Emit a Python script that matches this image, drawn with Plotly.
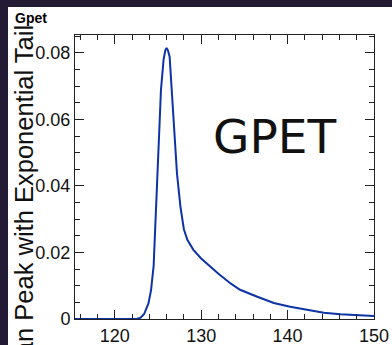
import plotly.graph_objects as go

# Gaussian peak with exponential tail
x_vals = [115.4, 118.0, 120.0, 122.0, 122.6, 123.0, 123.4, 123.9, 124.2, 124.5,
          124.7, 124.9, 125.1, 125.35, 125.65, 125.85, 126.0, 126.15, 126.35, 126.6,
          126.9, 127.2, 127.6, 128.0, 128.4, 129.1, 130.0, 131.0, 132.0, 133.4,
          134.5, 136.5, 138.4, 140.3, 142.3, 144.2, 146.1, 148.1, 150.0]
y_vals = [0.0, 0.0, 0.0, 0.0, 0.0001, 0.0004, 0.0015, 0.0047, 0.0087, 0.0160,
          0.0285, 0.0420, 0.0540, 0.0690, 0.0780, 0.0808, 0.0815, 0.0808, 0.0789, 0.0690,
          0.0540, 0.0438, 0.0338, 0.0270, 0.0238, 0.0208, 0.0182, 0.0158, 0.0136, 0.0107,
          0.0088, 0.0067, 0.0048, 0.0037, 0.0027, 0.0019, 0.0014, 0.0011, 0.0009]

x_ticks = [120, 130, 140, 150]
y_ticks = [0, 0.02, 0.04, 0.06, 0.08]
y_tick_text = ["0", "0.02", "0.04", "0.06", "0.08"]

title_text = "Gpet"
y_title = "Gaussian Peak with Exponential Tail"
label_text = "GPET"

W, H = 392, 345
L, R, T, B = 75, 18, 35, 26
PW, PH = W - L - R, H - T - B
DARK = "#231a33"


def px(xp):
    return (xp - L) / PW


def py(yp):
    return (H - B - yp) / PH


fig = go.Figure()
fig.add_trace(go.Scatter(x=x_vals, y=y_vals, mode="lines",
                         line=dict(color="#0d33a6", width=2), showlegend=False))

axis_common = dict(showline=True, linecolor="#222222", linewidth=1, mirror="allticks",
                   ticks="inside", tickcolor="#222222", showgrid=False, zeroline=False,
                   automargin=False,
                   tickfont=dict(family="Liberation Sans, Arial", size=18, color="#111111"))

fig.update_xaxes(range=[115.4, 150], tickvals=x_ticks, ticklen=9,
                 minor=dict(ticks="inside", dtick=2, tick0=0, ticklen=5, tickcolor="#222222"),
                 **axis_common)
fig.update_yaxes(range=[0, 0.0854], tickvals=y_ticks, ticktext=y_tick_text, ticklen=9,
                 minor=dict(ticks="inside", dtick=0.005, tick0=0, ticklen=5, tickcolor="#222222"),
                 **axis_common)

# dark frame strips at the left and top of the canvas
fig.add_shape(type="rect", xref="paper", yref="paper",
              x0=px(-5), x1=px(8), y0=py(H + 5), y1=py(-5),
              fillcolor=DARK, line=dict(width=0), layer="below")
fig.add_shape(type="rect", xref="paper", yref="paper",
              x0=px(-5), x1=px(W + 5), y0=py(7), y1=py(-5),
              fillcolor=DARK, line=dict(width=0), layer="below")

fig.add_annotation(text=title_text, xref="paper", yref="paper", x=px(13), y=py(18),
                   xanchor="left", yanchor="middle", showarrow=False,
                   font=dict(family="Liberation Sans, Arial", size=14, color="black", weight="bold"))
fig.add_annotation(text=y_title, xref="paper", yref="paper", x=px(7), y=py(23),
                   xanchor="left", yanchor="top", textangle=-90, showarrow=False,
                   font=dict(family="Liberation Sans, Arial", size=25.5, color="#111111"))
fig.add_annotation(text=label_text, x=138.5, y=0.055, xref="x", yref="y",
                   showarrow=False, xanchor="center", yanchor="middle",
                   font=dict(family="DejaVu Sans", size=47, color="#111111"))

fig.update_layout(width=W, height=H, autosize=False, margin=dict(l=L, r=R, t=T, b=B),
                  paper_bgcolor="white", plot_bgcolor="white")

fig.write_html("out.html",
               config={"responsive": False, "displayModeBar": False},
               post_script="document.body.style.margin='0';document.body.style.overflow='hidden';")
